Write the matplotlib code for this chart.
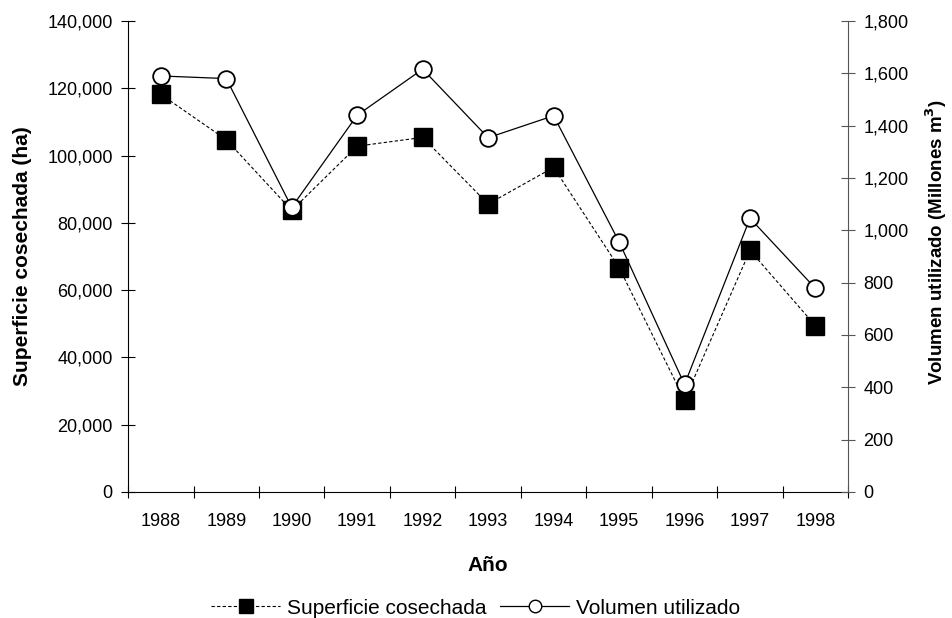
import matplotlib
matplotlib.use('Agg')
import matplotlib.pyplot as plt
from matplotlib.lines import Line2D
from matplotlib.ticker import FuncFormatter

plt.rcParams['font.family'] = ['Liberation Sans', 'DejaVu Sans']

years = ['1988', '1989', '1990', '1991', '1992', '1993', '1994', '1995', '1996', '1997', '1998']
superficie = [118200, 104700, 83700, 102800, 105400, 85600, 96500, 66700, 27400, 71800, 49400]
volumen = [1590, 1580, 1088, 1440, 1616, 1354, 1438, 956, 411, 1046, 778]

fig = plt.figure(figsize=(9.52, 6.18), dpi=100)
ax = fig.add_axes([0.1345, 0.2039, 0.7565, 0.7621])
ax2 = ax.twinx()

x = list(range(len(years)))
ax.plot(x, superficie, color='black', lw=0.8, ls=(0, (3, 2)), marker='s',
        markersize=13, markerfacecolor='black', markeredgecolor='black')
ax2.plot(x, volumen, color='black', lw=0.9, marker='o', markersize=12,
         markerfacecolor='white', markeredgecolor='black', markeredgewidth=1.3)

ax.set_xlim(-0.5, len(years) - 0.5)
ax.set_ylim(0, 140000)
ax2.set_ylim(0, 1800)
ax.set_yticks(range(0, 140001, 20000))
ax2.set_yticks(range(0, 1801, 200))
fmt = FuncFormatter(lambda v, p: f'{int(v):,}')
ax.yaxis.set_major_formatter(fmt)
ax2.yaxis.set_major_formatter(fmt)

ax.set_xticks(x)
ax.set_xticklabels(years)
ax.set_xticks([i - 0.5 for i in range(len(years) + 1)], minor=True)
ax.tick_params(axis='x', which='major', length=0, labelsize=13, pad=15)
ax.tick_params(axis='x', which='minor', length=8, direction='inout', width=0.8)
ax.tick_params(axis='y', length=10, direction='inout', width=0.8, labelsize=13, pad=6)
ax2.tick_params(axis='y', length=10, direction='inout', width=0.8, labelsize=13, pad=6,
                color='#555555')

for a in (ax, ax2):
    a.spines['top'].set_visible(False)
ax2.spines['left'].set_visible(False)
ax2.spines['bottom'].set_visible(False)
ax.spines['right'].set_visible(False)
ax2.spines['right'].set_color('#555555')
ax.spines['left'].set_linewidth(0.8)
ax.spines['bottom'].set_linewidth(0.8)
ax2.spines['right'].set_linewidth(0.8)

ax.set_ylabel('Superficie cosechada (ha)', fontsize=15, fontweight='bold', labelpad=11)
ax2.set_ylabel('Volumen utilizado (Millones m$^{\\mathbf{3}}$)', fontsize=13.5, fontweight='bold')
ax2.yaxis.set_label_coords(1.104, 0.53)
ax.set_xlabel('Año', fontsize=15, fontweight='bold', labelpad=19)

handles = [
    Line2D([], [], color='black', lw=0.8, ls=(0, (3, 2)), marker='s', markersize=10,
           markerfacecolor='black'),
    Line2D([], [], color='black', lw=0.9, marker='o', markersize=9,
           markerfacecolor='white', markeredgecolor='black'),
]
fig.legend(handles, ['Superficie cosechada', 'Volumen utilizado'], loc='lower center',
           ncol=2, frameon=False, fontsize=15, handlelength=3.3, columnspacing=0.65,
           handletextpad=0.35, bbox_to_anchor=(0.5, -0.03))

fig.savefig('out.png', dpi=100)
